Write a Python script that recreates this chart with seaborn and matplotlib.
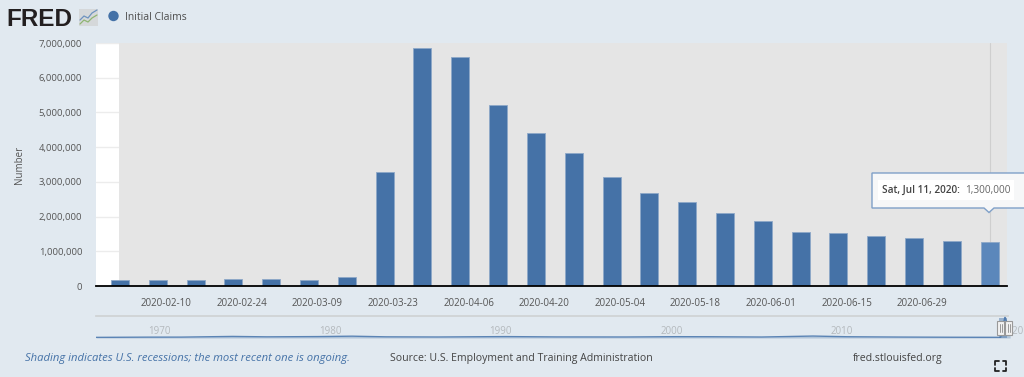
import matplotlib
matplotlib.use("Agg")
import matplotlib.pyplot as plt
from matplotlib.patches import Circle, Polygon, Rectangle
from matplotlib.ticker import FuncFormatter
import pandas as pd
import seaborn as sns

# ── Data ──────────────────────────────────────────────────────────────────────
week_dates = pd.date_range("2020-02-01", "2020-07-11", freq="7D")
claims = [175000, 175000, 175000, 200000, 200000, 175000, 250000, 3270000,
          6857000, 6600000, 5200000, 4410000, 3820000, 3140000, 2670000, 2410000,
          2090000, 1870000, 1550000, 1520000, 1440000, 1390000, 1290000, 1270000]
tick_dates = pd.date_range("2020-02-10", "2020-07-13", freq="14D")
y_ticks = [0, 1000000, 2000000, 3000000, 4000000, 5000000, 6000000, 7000000]

nav_years = [1967, 1970, 1972, 1975, 1977, 1980, 1982, 1984, 1987, 1991, 1994,
             1998, 2001, 2003, 2006, 2009, 2011, 2014, 2017, 2020.0, 2020.25, 2020.55]
nav_claims = [200000, 270000, 280000, 500000, 370000, 450000, 580000, 370000, 320000,
              450000, 340000, 320000, 420000, 400000, 310000, 620000, 400000, 300000,
              240000, 210000, 6800000, 1300000]
nav_labels = [1970, 1980, 1990, 2000, 2010, 2020]

BG = "#e1e9f0"
BAR = "#4572a7"
BAR_HI = "#5b87bb"
TEXT = "#555555"

# ── Figure ────────────────────────────────────────────────────────────────────
sns.set_theme(style="white")
plt.rcParams["font.family"] = ["Open Sans", "DejaVu Sans"]
W, H = 1024, 377
fig = plt.figure(figsize=(W / 100, H / 100), dpi=100, facecolor=BG)


def px_axes(left, top, right, bottom):
    return fig.add_axes([left / W, 1 - bottom / H, (right - left) / W, (bottom - top) / H])


# ── Main bars ─────────────────────────────────────────────────────────────────
ax = px_axes(96, 43, 1007, 286)
df = pd.DataFrame({"date": week_dates.strftime("%Y-%m-%d"), "claims": claims})
sns.barplot(data=df, x="date", y="claims", color=BAR, saturation=1, width=0.476,
            linewidth=0.6, edgecolor="#8ea8c8", ax=ax, zorder=3)
ax.patches[-1].set_facecolor(BAR_HI)

ax.set_facecolor("white")
ax.set_xlim(-0.635, 23.46)
ax.set_ylim(0, 7000000)
ax.axvspan(-0.03, 23.46, color="#e5e5e5", lw=0, zorder=1)
ax.axvline(23, color="#cfcfcf", lw=0.8, zorder=2)
ax.set_yticks(y_ticks)
ax.yaxis.set_major_formatter(FuncFormatter(lambda v, _: f"{int(v):,}"))
ax.grid(axis="y", color="#ececec", lw=1, zorder=0)
ax.set_axisbelow(True)

tick_pos = [(d - week_dates[0]).days / 7 - 0.066 for d in tick_dates]
ax.set_xticks(tick_pos)
ax.set_xticklabels([d.strftime("%Y-%m-%d") for d in tick_dates[:-1]] + [""])
ax.tick_params(axis="x", length=8, width=1, color="#cdd7e6", labelsize=7, labelcolor=TEXT, pad=1)
ax.tick_params(axis="y", length=0, labelsize=6.8, labelcolor=TEXT, pad=10)
ax.set_xlabel("")
ax.set_ylabel("Number", fontsize=7, color=TEXT, labelpad=10)
for s in ("top", "left", "right"):
    ax.spines[s].set_visible(False)
ax.spines["bottom"].set_color("black")
ax.spines["bottom"].set_linewidth(1.3)
ax.spines["bottom"].set_zorder(5)

# ── Navigator ─────────────────────────────────────────────────────────────────
nav = px_axes(96, 316, 1024, 338)
nav.set_facecolor("none")
sns.lineplot(x=nav_years, y=nav_claims, color="#5b84b5", lw=1, ax=nav, errorbar=None)
nav.fill_between(nav_years, nav_claims, color="#4572a7", alpha=0.3, lw=0)
nav.set_xlim(1967, 1967 + 928 / 17.07)
nav.set_ylim(0, 7000000)
nav.set_yticks([])
nav.set_xticks(nav_labels)
nav.set_xticklabels([])
nav.set_xlabel("")
nav.set_ylabel("")
nav.tick_params(axis="x", direction="in", length=16, width=0.8, color="#dbe2ea")
nav.grid(False)
for s in ("left", "right", "bottom"):
    nav.spines[s].set_visible(False)
nav.spines["top"].set_color("#cfd2d4")
nav.spines["top"].set_bounds(1967, 2020.4)
for yr in nav_labels:
    nav.text(yr + 0.05, 0.05, str(yr), transform=nav.get_xaxis_transform(), fontsize=7,
             color="#b4b9bd", va="bottom", ha="left", clip_on=False)

# ── Overlay: logo, legend, tooltip, footer ────────────────────────────────────
ov = fig.add_axes([0, 0, 1, 1], zorder=10)
ov.set_xlim(0, W)
ov.set_ylim(H, 0)
ov.axis("off")

ov.text(6.5, 26, "FRED", fontsize=17.5, fontweight="bold", family=["Liberation Sans", "DejaVu Sans"],
        color="#231f20", va="baseline", ha="left")
ov.add_patch(Rectangle((79, 9), 19, 17, fc="#d5d8da", ec="none"))
ov.plot([80, 84, 88, 92, 97], [20, 16, 18, 13, 10], color="#6d93bf", lw=0.9)
ov.plot([80, 84, 88, 92, 97], [24, 20, 22, 18, 15], color="#8fb573", lw=0.9)

ov.add_patch(Circle((113.5, 16), 5.2, fc=BAR, ec="none"))
ov.text(125, 17, "Initial Claims", fontsize=7.5, color="#4d4d4d", va="center", ha="left")

# tooltip
ov.add_patch(Polygon([(872, 173), (1030, 173), (1030, 208), (994, 208), (989, 212.5), (984, 208), (872, 208)],
                     closed=True, fc="#f6f7f8", ec="#7fa0c8", lw=1))
ov.add_patch(Rectangle((878, 180), 136, 20, fc="white", ec="none"))
ov.text(882, 190, "Sat, Jul 11, 2020:", fontsize=7.2, fontweight="semibold", color="#444444", va="center", ha="left")
ov.text(965, 190, "1,300,000", fontsize=7.2, color="#666666", va="center", ha="left")

# navigator handles
ov.add_patch(Rectangle((999, 318), 8, 20, fc="#4572a7", alpha=0.45, ec="none"))
for hx in (997, 1005):
    ov.add_patch(Rectangle((hx, 321), 7, 14, fc="#f2f2f2", ec="#999999", lw=0.8))
    ov.plot([hx + 2.5, hx + 2.5], [324, 332], color="#999999", lw=0.7)
    ov.plot([hx + 4.5, hx + 4.5], [324, 332], color="#999999", lw=0.7)

# footer
ov.text(25, 359, "Shading indicates U.S. recessions; the most recent one is ongoing.", fontsize=8.1,
        fontstyle="italic", color="#4572a7", va="center", ha="left")
ov.text(390, 359, "Source: U.S. Employment and Training Administration", fontsize=7.6,
        color="#444444", va="center", ha="left")
ov.text(853, 359, "fred.stlouisfed.org", fontsize=7.6, color="#444444", va="center", ha="left")

# expand icon
for cx, cy, dx, dy in [(995, 361, 1, 1), (1006, 361, -1, 1), (995, 371, 1, -1), (1006, 371, -1, -1)]:
    ov.plot([cx + 3.5 * dx, cx, cx], [cy, cy, cy + 3.5 * dy], color="#222222", lw=1.3)

fig.savefig("out.png", dpi=100, facecolor=BG)
